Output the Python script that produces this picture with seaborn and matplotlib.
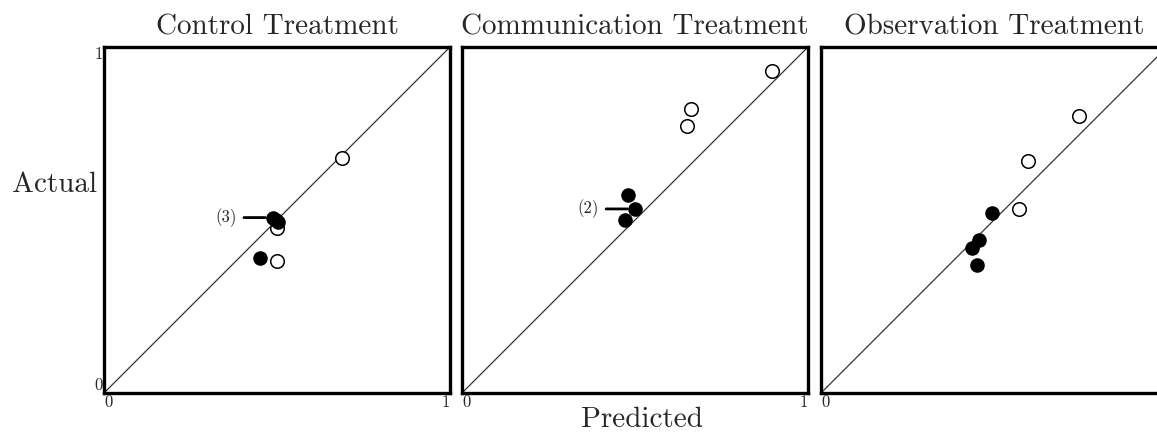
import pandas as pd
import seaborn as sns
import matplotlib.pyplot as plt

# panel titles
treatments = ["Control Treatment", "Communication Treatment", "Observation Treatment"]

# predicted / actual values, filled markers
filled_pred = [
    [0.488, 0.497, 0.503, 0.451],
    [0.480, 0.500, 0.471],
    [0.494, 0.457, 0.436, 0.451],
]
filled_act = [
    [0.507, 0.500, 0.495, 0.390],
    [0.572, 0.532, 0.500],
    [0.520, 0.442, 0.419, 0.370],
]

# predicted / actual values, open markers
open_pred = [
    [0.688, 0.500, 0.500],
    [0.896, 0.662, 0.650],
    [0.746, 0.598, 0.572],
]
open_act = [
    [0.679, 0.477, 0.381],
    [0.931, 0.821, 0.772],
    [0.801, 0.671, 0.532],
]

# count labels for overlapping points: (panel, label, x, y)
count_labels = [(0, "(3)", 0.488, 0.507), (1, "(2)", 0.500, 0.532)]


def main():
    sns.set_theme(style="white")
    plt.rcParams["font.family"] = ["cmr10", "DejaVu Serif"]
    plt.rcParams["axes.formatter.use_mathtext"] = True

    fig = plt.figure(figsize=(11.57, 4.34), dpi=100)
    lefts = [104, 462, 821]
    axes = []
    for i, name in enumerate(treatments):
        ax = fig.add_axes([lefts[i] / 1157, 41 / 434, 346 / 1157, 346 / 434])
        axes.append(ax)
        ax.axline((0, 0), slope=1, color="#333333", lw=0.9, zorder=1)

        df_f = pd.DataFrame({"Predicted": filled_pred[i], "Actual": filled_act[i]})
        df_o = pd.DataFrame({"Predicted": open_pred[i], "Actual": open_act[i]})
        sns.scatterplot(data=df_o, x="Predicted", y="Actual", ax=ax, s=95,
                        facecolor="white", edgecolor="black", linewidth=1.1,
                        zorder=3)
        sns.scatterplot(data=df_f, x="Predicted", y="Actual", ax=ax, s=110,
                        color="black", edgecolor="black", linewidth=0,
                        zorder=4)

        ax.set_xlim(0, 1)
        ax.set_ylim(0, 1)
        ax.set_xlabel("")
        ax.set_ylabel("")
        ax.set_title(name, fontsize=21, pad=9)
        for sp in ax.spines.values():
            sp.set_linewidth(2.4)
            sp.set_color("black")
        ax.set_xticks([0, 1])
        # the right end of the last panel runs off the page
        ax.set_xticklabels(["0", "1"] if i < 2 else ["0", ""])
        ax.tick_params(axis="both", length=0, labelsize=12, pad=1)
        for lab in ax.get_xticklabels():
            lab.set_horizontalalignment("left" if lab.get_text() == "0" else "right")
        if i == 0:
            ax.set_yticks([0, 1])
            ax.set_yticklabels(["0", "1"])
            for lab in ax.get_yticklabels():
                lab.set_verticalalignment("bottom" if lab.get_text() == "0" else "top")
        else:
            ax.set_yticks([])

    for idx, text, x, y in count_labels:
        axes[idx].annotate(text, xy=(x - 0.022, y), xytext=(x - 0.105, y),
                           fontsize=12, va="center", ha="right",
                           arrowprops=dict(arrowstyle="-", lw=2, color="black",
                                           shrinkA=3, shrinkB=0))

    fig.text(12 / 1157, 1 - 185 / 434, "Actual", fontsize=21, va="center", ha="left")
    fig.text(642 / 1157, 1 - 420 / 434, "Predicted", fontsize=21, va="center", ha="center")

    plt.savefig("out.png", dpi=100)


if __name__ == "__main__":
    main()
